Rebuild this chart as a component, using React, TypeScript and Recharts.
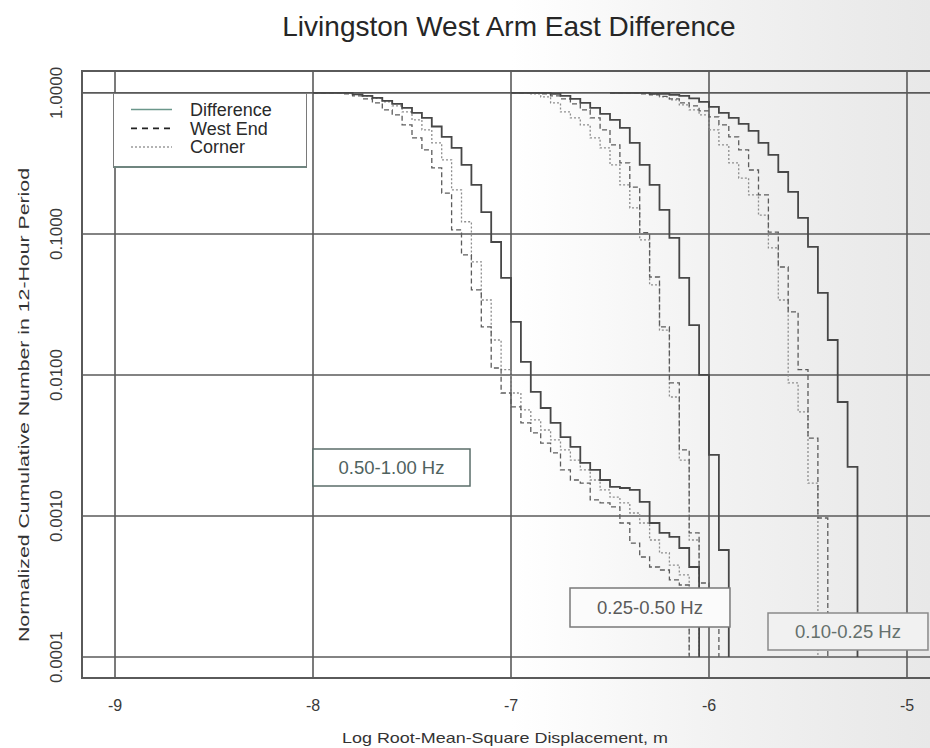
import React from 'react';
import {
  LineChart,
  Line,
  XAxis,
  YAxis,
  CartesianGrid,
  ReferenceArea,
  Legend,
} from 'recharts';

type Pt = [number, number];

const FONT = '"Liberation Sans", Arial, Helvetica, sans-serif';

const TITLE = 'Livingston West Arm East Difference';
const X_TITLE = 'Log Root-Mean-Square Displacement, m';
const Y_TITLE = 'Normalized Cumulative Number in 12-Hour Period';

const X_TICKS = [-9, -8, -7, -6, -5];
const Y_TICKS = [0.0001, 0.001, 0.01, 0.1, 1];
const X_DOMAIN: [number, number] = [-9.1667, -4.8333];
const Y_DOMAIN: [number, number] = [7.1e-5, 1.43];

// 0.50-1.00 Hz band: fraction of 12-hour windows exceeding each log displacement
const A_DIFFERENCE: Pt[] = [
  [-8.0, 1], [-7.8, 0.976], [-7.75, 0.952], [-7.7, 0.922], [-7.65, 0.877], [-7.6, 0.836],
  [-7.55, 0.783], [-7.5, 0.721], [-7.45, 0.665], [-7.4, 0.578], [-7.35, 0.488], [-7.3, 0.407],
  [-7.25, 0.309], [-7.2, 0.223], [-7.15, 0.143], [-7.1, 0.0877], [-7.05, 0.0488], [-7.0, 0.0238],
  [-6.95, 0.0124], [-6.9, 0.00758], [-6.85, 0.00583], [-6.8, 0.00457], [-6.75, 0.00363],
  [-6.7, 0.00309], [-6.65, 0.00238], [-6.6, 0.00212], [-6.55, 0.0018], [-6.5, 0.00161],
  [-6.45, 0.00158], [-6.4, 0.00153], [-6.35, 0.00126], [-6.3, 0.000892], [-6.25, 0.000758],
  [-6.2, 0.00071], [-6.15, 0.000593], [-6.1, 0.000435], [-6.05, 0.0001],
];
const A_WEST_END: Pt[] = [
  [-8.0, 1], [-7.85, 0.984], [-7.8, 0.952], [-7.75, 0.907], [-7.7, 0.849], [-7.65, 0.758],
  [-7.6, 0.698], [-7.55, 0.593], [-7.5, 0.48], [-7.45, 0.394], [-7.4, 0.294], [-7.35, 0.195],
  [-7.3, 0.107], [-7.25, 0.071], [-7.2, 0.0401], [-7.15, 0.0219], [-7.1, 0.0112], [-7.05, 0.00745],
  [-7.0, 0.00593], [-6.95, 0.00457], [-6.9, 0.00388], [-6.85, 0.00329], [-6.8, 0.0028],
  [-6.75, 0.00212], [-6.7, 0.0018], [-6.65, 0.00171], [-6.6, 0.0013], [-6.55, 0.00124],
  [-6.5, 0.00116], [-6.45, 0.000892], [-6.4, 0.000643], [-6.35, 0.000512], [-6.3, 0.000435],
  [-6.25, 0.000414], [-6.2, 0.000352], [-6.15, 0.000324], [-6.1, 0.0001],
];
const A_CORNER: Pt[] = [
  [-8.0, 1], [-7.8, 0.984], [-7.75, 0.952], [-7.7, 0.914], [-7.65, 0.863], [-7.6, 0.809],
  [-7.55, 0.733], [-7.5, 0.643], [-7.45, 0.547], [-7.4, 0.442], [-7.35, 0.335], [-7.3, 0.205],
  [-7.25, 0.122], [-7.2, 0.0633], [-7.15, 0.034], [-7.1, 0.0177], [-7.05, 0.0109], [-7.0, 0.00745],
  [-6.95, 0.00565], [-6.9, 0.0048], [-6.85, 0.00407], [-6.8, 0.00346], [-6.75, 0.00294],
  [-6.7, 0.00249], [-6.65, 0.00212], [-6.6, 0.0018], [-6.55, 0.00153], [-6.5, 0.00136],
  [-6.45, 0.00124], [-6.4, 0.00105], [-6.35, 0.000892], [-6.3, 0.000676], [-6.25, 0.000547],
  [-6.2, 0.000449], [-6.15, 0.000382], [-6.1, 0.0001],
];

// 0.25-0.50 Hz band
const B_DIFFERENCE: Pt[] = [
  [-7.0, 1], [-6.8, 0.984], [-6.75, 0.952], [-6.7, 0.907], [-6.65, 0.849], [-6.6, 0.783],
  [-6.55, 0.71], [-6.5, 0.643], [-6.45, 0.565], [-6.4, 0.442], [-6.35, 0.309], [-6.3, 0.223],
  [-6.25, 0.148], [-6.2, 0.0937], [-6.15, 0.0488], [-6.1, 0.0226], [-6.05, 0.01], [-6.0, 0.00271],
  [-5.95, 0.000574], [-5.9, 0.0001],
];
const B_WEST_END: Pt[] = [
  [-7.0, 1], [-6.85, 0.984], [-6.8, 0.952], [-6.75, 0.907], [-6.7, 0.836], [-6.65, 0.758],
  [-6.6, 0.665], [-6.55, 0.547], [-6.5, 0.428], [-6.45, 0.319], [-6.4, 0.215], [-6.35, 0.102],
  [-6.3, 0.0495], [-6.25, 0.0219], [-6.2, 0.00878], [-6.15, 0.00294], [-6.1, 0.000758],
  [-6.05, 0.000335], [-6.0, 0.000254], [-5.95, 0.0001],
];
const B_CORNER: Pt[] = [
  [-7.0, 1], [-6.9, 0.984], [-6.85, 0.937], [-6.8, 0.849], [-6.75, 0.733], [-6.7, 0.665],
  [-6.65, 0.593], [-6.6, 0.48], [-6.55, 0.407], [-6.5, 0.309], [-6.45, 0.223], [-6.4, 0.153],
  [-6.35, 0.0907], [-6.3, 0.0435], [-6.25, 0.0208], [-6.2, 0.00698], [-6.15, 0.00249],
  [-6.1, 0.000676], [-6.05, 0.0001],
];

// 0.10-0.25 Hz band
const C_DIFFERENCE: Pt[] = [
  [-6.5, 1], [-6.3, 0.984], [-6.2, 0.968], [-6.15, 0.952], [-6.1, 0.914], [-6.05, 0.863],
  [-6.0, 0.796], [-5.95, 0.721], [-5.9, 0.665], [-5.85, 0.603], [-5.8, 0.538], [-5.75, 0.442],
  [-5.7, 0.363], [-5.65, 0.275], [-5.6, 0.199], [-5.55, 0.13], [-5.5, 0.0809], [-5.45, 0.0382],
  [-5.4, 0.0177], [-5.35, 0.00643], [-5.3, 0.00223], [-5.25, 0.0001],
];
const C_WEST_END: Pt[] = [
  [-6.5, 1], [-6.35, 0.984], [-6.3, 0.968], [-6.25, 0.944], [-6.2, 0.907], [-6.15, 0.849],
  [-6.1, 0.809], [-6.05, 0.745], [-6.0, 0.676], [-5.95, 0.593], [-5.9, 0.488], [-5.85, 0.394],
  [-5.8, 0.284], [-5.75, 0.189], [-5.7, 0.103], [-5.65, 0.0583], [-5.6, 0.028], [-5.55, 0.0109],
  [-5.5, 0.00357], [-5.45, 0.000968], [-5.4, 0.0001],
];
const C_CORNER: Pt[] = [
  [-6.5, 1], [-6.3, 0.984], [-6.25, 0.937], [-6.2, 0.892], [-6.15, 0.822], [-6.1, 0.758],
  [-6.05, 0.698], [-6.0, 0.547], [-5.95, 0.428], [-5.9, 0.319], [-5.85, 0.249], [-5.8, 0.189],
  [-5.75, 0.136], [-5.7, 0.0796], [-5.65, 0.034], [-5.6, 0.00878], [-5.55, 0.00547],
  [-5.5, 0.00171], [-5.45, 0.0001],
];

type Kind = 'difference' | 'westEnd' | 'corner';

const LINE_STYLE: Record<Kind, { stroke: string; width: number; dash?: string }> = {
  difference: { stroke: '#474747', width: 1.8 },
  westEnd: { stroke: '#5c5c5c', width: 1.3, dash: '5 3' },
  corner: { stroke: '#8e8e8e', width: 1.3, dash: '2 2' },
};

const SERIES: { id: string; kind: Kind; points: Pt[] }[] = [
  { id: 'a-corner', kind: 'corner', points: A_CORNER },
  { id: 'b-corner', kind: 'corner', points: B_CORNER },
  { id: 'c-corner', kind: 'corner', points: C_CORNER },
  { id: 'a-west', kind: 'westEnd', points: A_WEST_END },
  { id: 'b-west', kind: 'westEnd', points: B_WEST_END },
  { id: 'c-west', kind: 'westEnd', points: C_WEST_END },
  { id: 'a-diff', kind: 'difference', points: A_DIFFERENCE },
  { id: 'b-diff', kind: 'difference', points: B_DIFFERENCE },
  { id: 'c-diff', kind: 'difference', points: C_DIFFERENCE },
];

const LEGEND_ROWS: { label: string; stroke: string; width: number; dash?: string }[] = [
  { label: 'Difference', stroke: '#6b978b', width: 1.3 },
  { label: 'West End', stroke: '#222', width: 1.8, dash: '6 5' },
  { label: 'Corner', stroke: '#9a9a9a', width: 1.5, dash: '2 2' },
];

// Frequency-band tags placed in data space
const BAND_TAGS = [
  { text: '0.50-1.00 Hz', x1: -8.0, x2: -7.207, y1: 0.00163, y2: 0.00299, fill: '#ffffff', stroke: '#5b6e6a', color: '#4f625e' },
  { text: '0.25-0.50 Hz', x1: -6.702, x2: -5.894, y1: 0.000163, y2: 0.000309, fill: '#fbfbfb', stroke: '#7a7a7a', color: '#5a5a5a' },
  { text: '0.10-0.25 Hz', x1: -5.702, x2: -4.894, y1: 0.000112, y2: 0.000205, fill: '#f1f1f1', stroke: '#8a8a8a', color: '#65706c' },
];

const toRows = (pts: Pt[]) => pts.map(([x, y]) => ({ x, y }));

function YTick(props: any) {
  const { y, payload } = props;
  const cx = 62;
  return (
    <text
      x={cx}
      y={y}
      transform={`rotate(-90, ${cx}, ${y})`}
      textAnchor="middle"
      fontFamily={FONT}
      fontSize={17}
      fill="#3a3a3a"
    >
      {Number(payload.value).toFixed(4)}
    </text>
  );
}

function XTick(props: any) {
  const { x, payload } = props;
  return (
    <text x={x} y={711} textAnchor="middle" fontFamily={FONT} fontSize={16} fill="#3a3a3a">
      {payload.value}
    </text>
  );
}

function XTitle() {
  return (
    <text
      x={505}
      y={743}
      textAnchor="middle"
      fontFamily={FONT}
      fontSize={15}
      fill="#333"
      textLength={326}
      lengthAdjust="spacingAndGlyphs"
    >
      {X_TITLE}
    </text>
  );
}

function YTitle() {
  return (
    <text
      x={29}
      y={405}
      transform="rotate(-90, 29, 405)"
      textAnchor="middle"
      fontFamily={FONT}
      fontSize={15}
      fill="#333"
      textLength={474}
      lengthAdjust="spacingAndGlyphs"
    >
      {Y_TITLE}
    </text>
  );
}

function LegendBox() {
  return (
    <div
      style={{
        width: 194,
        height: 75,
        boxSizing: 'border-box',
        border: '1.5px solid #7a7a7a',
        borderBottom: '2px solid #6f857f',
        background: '#ffffff',
      }}
    >
      <svg width={191} height={72} style={{ display: 'block' }}>
        {LEGEND_ROWS.map((row, i) => {
          const cy = 15.5 + i * 18.8;
          return (
            <g key={row.label}>
              <line
                x1={17}
                x2={58}
                y1={cy}
                y2={cy}
                stroke={row.stroke}
                strokeWidth={row.width}
                strokeDasharray={row.dash}
              />
              <text x={76} y={cy + 6.3} fontFamily={FONT} fontSize={18} fill="#2a2a2a">
                {row.label}
              </text>
            </g>
          );
        })}
      </svg>
    </div>
  );
}

export default function App() {
  return (
    <div
      style={{
        position: 'absolute',
        left: 0,
        top: 0,
        width: 930,
        height: 748,
        overflow: 'hidden',
        background:
          'linear-gradient(90deg, #ffffff 0%, #ffffff 55%, #f3f3f3 75%, #ececec 90%, #e8e8e8 100%)',
      }}
    >
      <LineChart width={940} height={748} margin={{ top: 71, right: 0, bottom: 20, left: 22 }}>
        <CartesianGrid stroke="#5a5a5a" strokeWidth={1.6} />
        <XAxis
          type="number"
          dataKey="x"
          domain={X_DOMAIN}
          ticks={X_TICKS}
          allowDataOverflow
          axisLine={false}
          tickLine={false}
          height={50}
          tick={<XTick />}
          label={<XTitle />}
        />
        <YAxis
          type="number"
          dataKey="y"
          scale="log"
          domain={Y_DOMAIN}
          ticks={Y_TICKS}
          allowDataOverflow
          axisLine={false}
          tickLine={false}
          width={60}
          tick={<YTick />}
          label={<YTitle />}
        />
        <ReferenceArea
          x1={X_DOMAIN[0]}
          x2={X_DOMAIN[1]}
          y1={Y_DOMAIN[0]}
          y2={Y_DOMAIN[1]}
          fill="none"
          stroke="#5a5a5a"
          strokeWidth={2}
          ifOverflow="visible"
        />
        {SERIES.map((s) => {
          const st = LINE_STYLE[s.kind];
          return (
            <Line
              key={s.id}
              data={toRows(s.points)}
              dataKey="y"
              type="stepAfter"
              stroke={st.stroke}
              strokeWidth={st.width}
              strokeDasharray={st.dash}
              dot={false}
              activeDot={false}
              legendType="none"
              isAnimationActive={false}
            />
          );
        })}
        {BAND_TAGS.map((b) => (
          <ReferenceArea
            key={b.text}
            x1={b.x1}
            x2={b.x2}
            y1={b.y1}
            y2={b.y2}
            fill={b.fill}
            fillOpacity={1}
            stroke={b.stroke}
            strokeWidth={1.5}
            ifOverflow="visible"
            zIndex={450}
            label={{ value: b.text, position: 'center', fill: b.color, fontSize: 18.5, fontFamily: FONT }}
          />
        ))}
        <Legend
          layout="horizontal"
          verticalAlign="middle"
          align="center"
          width={194}
          height={75}
          wrapperStyle={{ left: 113, top: 93, width: 194, height: 75 }}
          content={<LegendBox />}
        />
      </LineChart>
      <svg
        width={930}
        height={60}
        style={{ position: 'absolute', left: 0, top: 0, pointerEvents: 'none' }}
      >
        <text x={509} y={36} textAnchor="middle" fontFamily={FONT} fontSize={28} fill="#262626">
          {TITLE}
        </text>
      </svg>
    </div>
  );
}
